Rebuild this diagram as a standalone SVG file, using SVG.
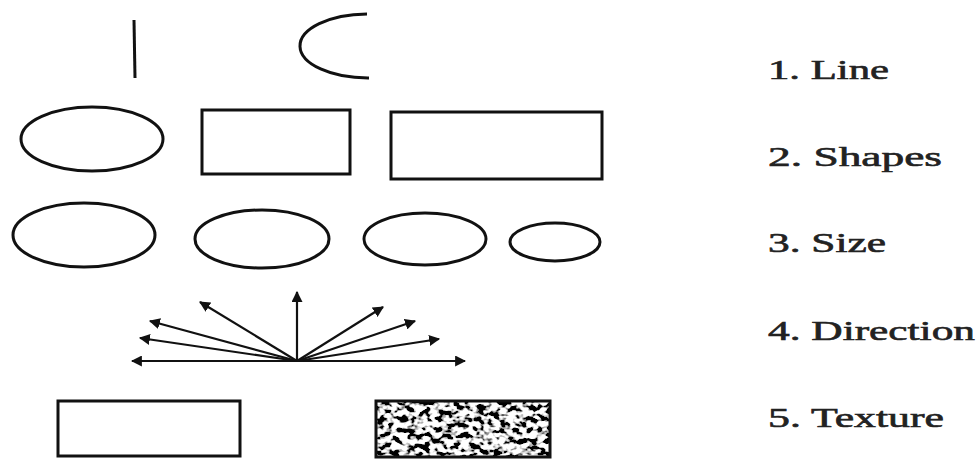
<svg xmlns="http://www.w3.org/2000/svg" width="979" height="461" viewBox="0 0 979 461">
<style>
.s{fill:none;stroke:#111;stroke-width:3}
.a{fill:none;stroke:#111;stroke-width:2.2;marker-end:url(#ah)}
.t{font-family:"Liberation Serif","Times New Roman",serif;font-size:27px;fill:#222;stroke:#222;stroke-width:0.6}
</style>
<defs>
<marker id="ah" viewBox="0 0 10 10" refX="9" refY="5" markerWidth="5" markerHeight="5" orient="auto-start-reverse" markerUnits="strokeWidth">
<path d="M0,0 L10,5 L0,10 z" fill="#111"/>
</marker>
<filter id="noise" x="0" y="0" width="1" height="1" filterUnits="objectBoundingBox">
<feTurbulence type="fractalNoise" baseFrequency="0.13 0.18" numOctaves="2" seed="7" result="n"/>
<feColorMatrix in="n" type="matrix" values="0 0 0 0 0  0 0 0 0 0  0 0 0 0 0  -7 0 0 0 3.9" result="m"/>
<feFlood flood-color="#fff" result="w"/>
<feComposite in="m" in2="w" operator="over"/>
</filter>
</defs>
<g id="row-line">
<line class="s" x1="134" y1="20" x2="135" y2="78"/>
<path class="s" d="M367,14 A68,32 0 0 0 369,78"/>
</g>
<g id="row-shapes">
<ellipse class="s" cx="92" cy="139" rx="71" ry="32"/>
<rect class="s" x="202" y="110" width="148" height="64"/>
<rect class="s" x="391" y="112" width="211" height="67"/>
</g>
<g id="row-size">
<ellipse class="s" cx="84" cy="235" rx="71" ry="32"/>
<ellipse class="s" cx="262" cy="239" rx="67" ry="29"/>
<ellipse class="s" cx="425" cy="239" rx="61" ry="26"/>
<ellipse class="s" cx="555" cy="242" rx="45" ry="19"/>
</g>
<g id="connectors">
<line class="a" x1="297" y1="361" x2="132" y2="361"/>
<line class="a" x1="297" y1="361" x2="465" y2="361"/>
<line class="a" x1="297" y1="361" x2="140" y2="338"/>
<line class="a" x1="297" y1="361" x2="150" y2="321"/>
<line class="a" x1="297" y1="361" x2="200" y2="302"/>
<line class="a" x1="297" y1="361" x2="297" y2="292"/>
<line class="a" x1="297" y1="361" x2="383" y2="307"/>
<line class="a" x1="297" y1="361" x2="415" y2="321"/>
<line class="a" x1="297" y1="361" x2="439" y2="339"/>
</g>
<g id="row-texture">
<rect class="s" x="58" y="401" width="182" height="55"/>
<rect x="376" y="401" width="174" height="56" fill="#fff" filter="url(#noise)"/>
<rect class="s" x="376" y="401" width="174" height="56"/>
</g>
<g id="labels">
<text class="t" x="768" y="79" textLength="121" lengthAdjust="spacingAndGlyphs">1. Line</text>
<text class="t" x="768" y="166" textLength="174" lengthAdjust="spacingAndGlyphs">2. Shapes</text>
<text class="t" x="768" y="252" textLength="118" lengthAdjust="spacingAndGlyphs">3. Size</text>
<text class="t" x="768" y="340" textLength="207" lengthAdjust="spacingAndGlyphs">4. Direction</text>
<text class="t" x="768" y="427" textLength="176" lengthAdjust="spacingAndGlyphs">5. Texture</text>
</g>
</svg>
